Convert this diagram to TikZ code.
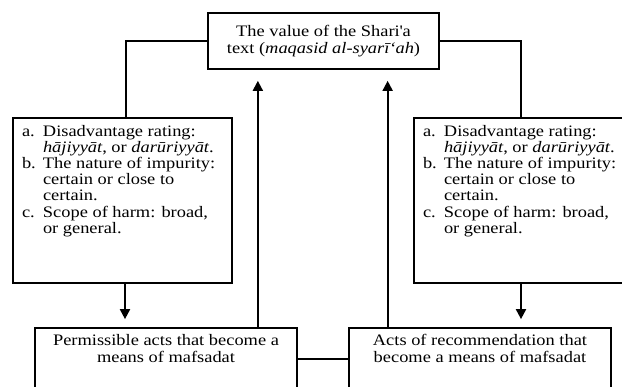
\documentclass[tikz,border=0pt]{standalone}
\usepackage{fontspec}
\setmainfont[FakeStretch=1.15]{Liberation Serif}
\usetikzlibrary{arrows.meta}

\begin{document}
\begin{tikzpicture}[x=1pt,y=1pt,
		textbox/.style={draw, line width=1.7pt, align=center, inner sep=0pt,
			font=\fontsize{16}{17.5}\selectfont},
		listbox/.style={draw, line width=1.7pt, inner xsep=9pt, inner ysep=7pt,
			font=\fontsize{16}{16.2}\selectfont},
		link/.style={line width=1.7pt},
		arr/.style={-{Triangle[width=10pt,length=10pt]}, line width=1.9pt}]
	\useasboundingbox (0,0) rectangle (622,387);
	\clip (0,0) rectangle (622,387);

	% top box
	\node[textbox, minimum width=231pt, minimum height=56pt] (value) at (323.5,346)
		{The value of the Shari\textquotesingle a\\text (\textit{maqasid al-syarī‘ah})};

	% criteria boxes
	\node[listbox] (lcrit) at (122.5,186.5) {\parbox[c][151pt][t]{201pt}{%
		\makebox[21pt][l]{a.}Disadvantage rating:\\
		\hspace*{21pt}\textit{hājiyyāt}, or \textit{darūriyyāt}.\\
		\makebox[21pt][l]{b.}The nature of impurity:\\
		\hspace*{21pt}certain or close to\\
		\hspace*{21pt}certain.\\
		\makebox[21pt][l]{c.}Scope of harm: broad,\\
		\hspace*{21pt}or general.}};
	\node[listbox] (rcrit) at (523.5,186.5) {\parbox[c][151pt][t]{201pt}{%
		\makebox[21pt][l]{a.}Disadvantage rating:\\
		\hspace*{21pt}\textit{hājiyyāt}, or \textit{darūriyyāt}.\\
		\makebox[21pt][l]{b.}The nature of impurity:\\
		\hspace*{21pt}certain or close to\\
		\hspace*{21pt}certain.\\
		\makebox[21pt][l]{c.}Scope of harm: broad,\\
		\hspace*{21pt}or general.}};

	% bottom boxes
	\node[textbox, minimum width=262pt, minimum height=62pt] (permis) at (166,28)
		{Permissible acts that become a\\means of mafsadat\\[4pt]\mbox{}};
	\node[textbox, minimum width=262pt, minimum height=62pt] (recomm) at (480,28)
		{Acts of recommendation that\\become a means of mafsadat\\[4pt]\mbox{}};

	% connectors
	\draw[link] (value.west) -| ([xshift=3.5pt]lcrit.north);
	\draw[link] (value.east) -| ([xshift=-2.5pt]rcrit.north);
	\draw[link] (permis.east) -- (recomm.west);
	\draw[arr, shorten >=8pt] ([xshift=2.5pt]lcrit.south) -- ([xshift=2.5pt]lcrit.south |- permis.north);
	\draw[arr, shorten >=8pt] ([xshift=-2.5pt]rcrit.south) -- ([xshift=-2.5pt]rcrit.south |- recomm.north);
	\draw[arr, shorten >=11pt] ([xshift=-40pt]permis.north east) -- ([xshift=-40pt]permis.north east |- value.south);
	\draw[arr, shorten >=11pt] ([xshift=39.5pt]recomm.north west) -- ([xshift=39.5pt]recomm.north west |- value.south);
\end{tikzpicture}
\end{document}
